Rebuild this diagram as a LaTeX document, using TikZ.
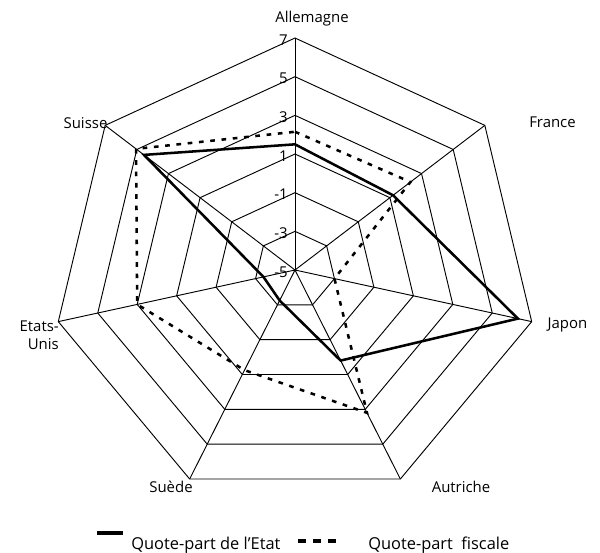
\documentclass[tikz,border=0pt]{standalone}
\usepackage{fontspec}
\setmainfont{Open Sans}
\usetikzlibrary{calc}
\begin{document}
\begin{tikzpicture}[x=0.75pt,y=-0.75pt,
  grid/.style={line width=0.7pt, black},
  etat/.style={line width=1.9pt, line join=miter},
  fisc/.style={line width=1.9pt, dash pattern=on 3.5pt off 5pt},
  lab/.style={font=\fontsize{11.2}{13.5}\selectfont, inner sep=0pt},
  leglab/.style={font=\fontsize{12.3}{14}\selectfont, inner sep=0pt, anchor=west},
  ticklab/.style={font=\fontsize{11.2}{13}\selectfont, inner sep=0pt, anchor=east}]
\useasboundingbox (0,0) rectangle (600,553);
\def\cx{295}\def\cy{270}\def\rx{242.8}\def\ry{232}
\coordinate (c) at (\cx,\cy);
\foreach \k in {0,...,6}{
  \pgfmathsetmacro\a{90-\k*360/7}
  \coordinate (o\k) at ({\cx+\rx*cos(\a)},{\cy-\ry*sin(\a)});
}
% spokes
\foreach \k in {0,...,6} \draw[grid] (c) -- (o\k);
% rings
\foreach \f in {1,...,6}
  \draw[grid] ($(c)!\f/6!(o0)$) \foreach \k in {1,...,6}{ -- ($(c)!\f/6!(o\k)$)} -- cycle;
% tick labels
\foreach \v/\n in {-5/a,-3/b,-1/c,1/d,3/e,5/f,7/g}
  \node[ticklab] (t\n) at ($(c)!{(\v+5)/12}!(o0) + (-7,2)$) {\v};
% data: Quote-part de l'Etat
\foreach \k/\v in {0/1.5,1/1.2,2/6.3,3/0.2,4/-3.25,5/-3.4,6/4.55}
  \coordinate (e\k) at ($(c)!{(\v+5)/12}!(o\k)$);
\draw[etat] (e0) -- (e1) -- (e2) -- (e3) -- (e4) -- (e5) -- (e6) -- cycle;
% data: Quote-part fiscale
\foreach \k/\v in {0/2.15,1/2.3,2/-3.0,3/3.2,4/0.75,5/3.0,6/5.05}
  \coordinate (f\k) at ($(c)!{(\v+5)/12}!(o\k)$);
\draw[fisc] (f0) -- (f1) -- (f2) -- (f3) -- (f4) -- (f5) -- (f6) -- cycle;
% axis labels
\node[lab] (allemagne) at (312,19) {Allemagne};
\node[lab] (france) at (552.5,122) {France};
\node[lab] (japon) at (567.5,325) {Japon};
\node[lab] (autriche) at (461,487) {Autriche};
\node[lab] (suede) at (171,487) {Suède};
\node[lab, anchor=east, align=right] (etats) at (59,335) {Etats-\\Unis};
\node[lab] (suisse) at (85.5,123) {Suisse};
% legend
\coordinate (la) at (97,533);
\coordinate (lb) at (123,533);
\draw[line width=3pt] (la) -- (lb);
\node[leglab] (letat) at (131,545) {Quote-part de l'Etat};
\coordinate (lc) at (298,541);
\coordinate (ld) at (336,541);
\draw[line width=2.4pt, dash pattern=on 6pt off 5.3pt] (lc) -- (ld);
\node[leglab] (lfisc) at (368,545) {Quote-part\ \ fiscale};
\end{tikzpicture}
\end{document}
